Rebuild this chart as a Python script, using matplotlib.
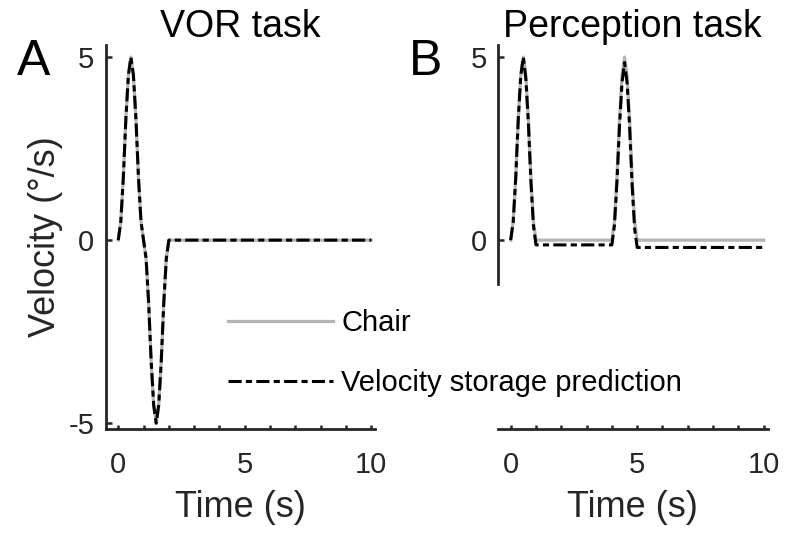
import matplotlib
matplotlib.use('Agg')
import matplotlib.pyplot as plt
from matplotlib.ticker import MultipleLocator

plt.rcParams['font.family'] = ['Liberation Sans', 'DejaVu Sans']
plt.rcParams['axes.unicode_minus'] = False

# VOR task: one sinusoidal cycle of chair rotation, prediction follows the chair
t_vor = [0.0, 0.1, 0.2, 0.3, 0.4, 0.5, 0.6, 0.7, 0.8, 0.9, 1.0,
         1.1, 1.2, 1.3, 1.4, 1.5, 1.6, 1.7, 1.8, 1.9, 2.0, 10.0]
chair_vor = [0, 0.5, 1.7, 3.3, 4.5, 5.0, 4.5, 3.3, 1.7, 0.5, 0,
             -0.5, -1.7, -3.3, -4.5, -5.0, -4.5, -3.3, -1.7, -0.5, 0, 0]
pred_vor = [0, 0.5, 1.7, 3.3, 4.5, 5.0, 4.5, 3.3, 1.7, 0.5, 0,
            -0.5, -1.7, -3.3, -4.5, -5.0, -4.5, -3.3, -1.7, -0.5, 0, 0]

# Perception task: two positive pulses
t_perc = [0.0, 0.1, 0.2, 0.3, 0.4, 0.5, 0.6, 0.7, 0.8, 0.9, 1.0,
          4.0, 4.1, 4.2, 4.3, 4.4, 4.5, 4.6, 4.7, 4.8, 4.9, 5.0, 10.0]
chair_perc = [0, 0.5, 1.7, 3.3, 4.5, 5.0, 4.5, 3.3, 1.7, 0.5, 0,
              0, 0.5, 1.7, 3.3, 4.5, 5.0, 4.5, 3.3, 1.7, 0.5, 0, 0]
pred_perc = [0, 0.5, 1.7, 3.3, 4.5, 5.0, 4.4, 3.2, 1.6, 0.4, -0.13,
             -0.13, 0.4, 1.6, 3.1, 4.3, 4.85, 4.3, 3.1, 1.5, 0.3, -0.2, -0.2]

x_ticks = [0, 5, 10]
titles = ['VOR task', 'Perception task']
panel_labels = ['A', 'B']

chair_color = '#b4b4b4'
ink = '#262626'


def style_axes(ax, yticks, spine_bottom):
    ax.set_xlim(-0.5, 10.15)
    ax.set_ylim(-5.16, 5.33)
    ax.set_xticks(x_ticks)
    ax.xaxis.set_minor_locator(MultipleLocator(1))
    ax.set_yticks(yticks)
    for side in ['top', 'right']:
        ax.spines[side].set_visible(False)
    for side in ['left', 'bottom']:
        ax.spines[side].set_linewidth(2.0)
        ax.spines[side].set_color(ink)
    ax.spines['left'].set_bounds(spine_bottom, 5.33)
    ax.tick_params(which='both', direction='in', width=1.8, color=ink,
                   labelsize=21, labelcolor=ink)
    ax.tick_params(axis='x', which='major', length=3, pad=16)
    ax.tick_params(axis='x', which='minor', length=3)
    ax.tick_params(axis='y', length=4, pad=8)
    ax.set_xlabel('Time (s)', fontsize=26, color=ink, labelpad=8)


def main():
    fig = plt.figure(figsize=(7.88, 5.39), dpi=100)
    ax1 = fig.add_axes([0.134, 0.204, 0.342, 0.7125])
    ax2 = fig.add_axes([0.632, 0.204, 0.342, 0.7125])

    dash = (4.3, 1.4, 2.0, 1.4)
    ax1.plot(t_vor, chair_vor, color=chair_color, lw=2.3, label='Chair')
    ax1.plot(t_vor, pred_vor, color='black', lw=2.2, dashes=dash,
             dash_capstyle='butt', label='Velocity storage prediction')
    ax2.plot(t_perc, chair_perc, color=chair_color, lw=2.3)
    ax2.plot(t_perc, pred_perc, color='black', lw=2.2, dashes=dash,
             dash_capstyle='butt')

    style_axes(ax1, [-5, 0, 5], -5.16)
    style_axes(ax2, [0, 5], -1.2)
    ax1.set_ylabel('Velocity (°/s)', fontsize=26, color=ink, labelpad=4)

    for ax, title, letter in zip([ax1, ax2], titles, panel_labels):
        ax.set_title(title, fontsize=27, pad=6)
        ax.text(-0.33, 0.955, letter, transform=ax.transAxes, fontsize=36,
                ha='left', va='center')

    handles, labels = ax1.get_legend_handles_labels()
    fig.legend(handles, labels, loc='center left', bbox_to_anchor=(0.289, 0.345),
               frameon=False, fontsize=21, handlelength=3.6, handletextpad=0.3,
               labelspacing=1.1, borderpad=0, borderaxespad=0)

    fig.savefig('out.png', dpi=100)


if __name__ == '__main__':
    main()
